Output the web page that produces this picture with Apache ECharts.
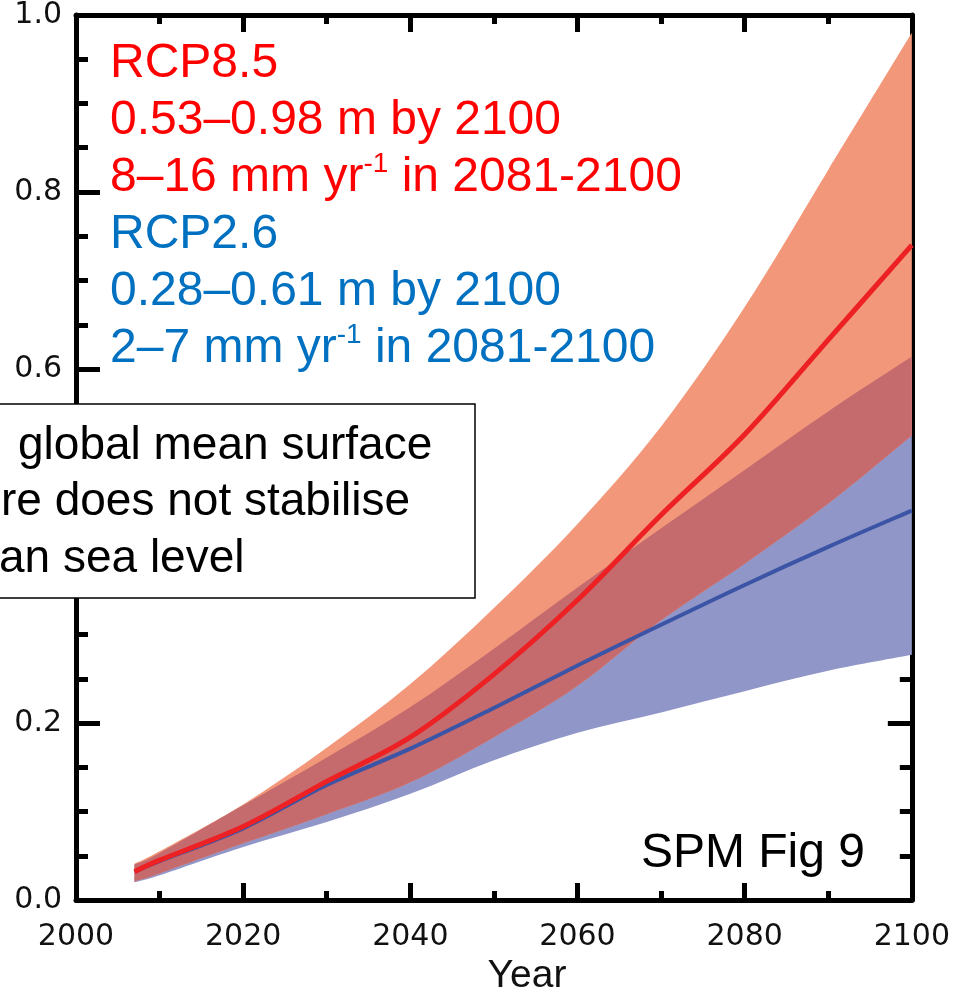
<!DOCTYPE html>
<html>
<head>
<meta charset="utf-8">
<script src="https://cdn.jsdelivr.net/npm/echarts@6/dist/echarts.min.js"></script>
<style>
  html, body { margin: 0; padding: 0; background: #fff; }
  #chart { width: 953px; height: 994px; }
</style>
</head>
<body>
<div id="chart"></div>
<script>
// values (m of sea level rise)
const years = [2007, 2010, 2020, 2030, 2040, 2050, 2060, 2070, 2080, 2090, 2100];
const rcp85Upper = [0.041, 0.055, 0.108, 0.172, 0.244, 0.330, 0.425, 0.535, 0.670, 0.825, 0.980];
const rcp85Mid   = [0.032, 0.045, 0.083, 0.134, 0.184, 0.255, 0.339, 0.435, 0.526, 0.633, 0.740];
const rcp85Lower = [0.021, 0.030, 0.064, 0.097, 0.133, 0.184, 0.242, 0.316, 0.380, 0.448, 0.525];
const rcp26Upper = [0.040, 0.053, 0.107, 0.161, 0.218, 0.284, 0.353, 0.420, 0.486, 0.552, 0.614];
const rcp26Mid   = [0.032, 0.044, 0.081, 0.130, 0.171, 0.217, 0.265, 0.311, 0.356, 0.399, 0.440];
const rcp26Lower = [0.020, 0.028, 0.060, 0.088, 0.120, 0.158, 0.189, 0.212, 0.236, 0.259, 0.277];

const chart = echarts.init(document.getElementById('chart'));

// where both ranges cover the same values
const overlapUpper = years.map((y, i) => Math.min(rcp85Upper[i], rcp26Upper[i]));
const overlapLower = years.map((y, i) => Math.max(rcp85Lower[i], rcp26Lower[i]));

// catmull-rom through pixel points -> svg path commands
const curve = (pts, first) => {
  let d = (first ? 'M' : 'L') + pts[0][0] + ',' + pts[0][1];
  for (let i = 0; i < pts.length - 1; i++) {
    const p0 = pts[i - 1] || pts[i], p1 = pts[i], p2 = pts[i + 1], p3 = pts[i + 2] || pts[i + 1];
    const c1 = [p1[0] + (p2[0] - p0[0]) / 6, p1[1] + (p2[1] - p0[1]) / 6];
    const c2 = [p2[0] - (p3[0] - p1[0]) / 6, p2[1] - (p3[1] - p1[1]) / 6];
    d += 'C' + c1.join(',') + ' ' + c2.join(',') + ' ' + p2.join(',');
  }
  return d;
};

const band = (lower, upper, color, z) => ({
  type: 'custom', z: z, silent: true,
  data: [[years[0], lower[0]]],
  renderItem: (params, api) => {
    const top = years.map((y, i) => api.coord([y, upper[i]]));
    const bot = years.map((y, i) => api.coord([y, lower[i]])).reverse();
    return {
      type: 'path',
      shape: { pathData: curve(top, true) + curve(bot, false) + 'Z' },
      style: { fill: color }
    };
  }
});

const line = (vals, color, width, z) => ({
  type: 'custom', z: z, silent: true,
  data: [[years[0], vals[0]]],
  renderItem: (params, api) => ({
    type: 'path',
    shape: { pathData: curve(years.map((y, i) => api.coord([y, vals[i]])), true) },
    style: { fill: null, stroke: color, lineWidth: width, lineCap: 'butt' }
  })
});

const tickLabel = { fontFamily: 'DejaVu Sans', fontSize: 30, color: '#111' };

const xAxisBase = {
  type: 'value', min: 2000, max: 2100, interval: 20,
  axisLine: { onZero: false, lineStyle: { color: '#000', width: 5 } },
  axisTick: { inside: true, length: 17, lineStyle: { color: '#000', width: 5 } },
  minorTick: { show: true, splitNumber: 2, length: 9, lineStyle: { color: '#000', width: 5 } },
  splitLine: { show: false }
};
const yAxisBase = {
  type: 'value', min: 0, max: 1, interval: 0.2,
  axisLine: { onZero: false, lineStyle: { color: '#000', width: 5 } },
  axisTick: { inside: true, length: 24, lineStyle: { color: '#000', width: 5 } },
  minorTick: { show: true, splitNumber: 4, length: 12, lineStyle: { color: '#000', width: 5 } },
  splitLine: { show: false }
};

const txt = (text, x, y, fill, size, extra) => ({
  type: 'text', z: 200, x: x, y: y,
  style: Object.assign({
    text: text, fill: fill,
    font: size + 'px "Liberation Sans", Arial, sans-serif',
    verticalAlign: 'middle', align: 'left'
  }, extra || {})
});
const sup = { s: { fontSize: 28, lineHeight: 38, verticalAlign: 'top' } };

const option = {
  animation: false,
  grid: { left: 76, right: 36, top: 12, bottom: 94 },
  xAxis: [
    Object.assign({}, xAxisBase, {
      position: 'bottom',
      axisLabel: Object.assign({ margin: 22, formatter: v => String(v) }, tickLabel)
    }),
    Object.assign({}, xAxisBase, { position: 'top', axisLabel: { show: false } })
  ],
  yAxis: [
    Object.assign({}, yAxisBase, {
      position: 'left',
      axisLabel: Object.assign({ margin: 14, formatter: v => v.toFixed(1) }, tickLabel)
    }),
    Object.assign({}, yAxisBase, { position: 'right', axisLabel: { show: false } })
  ],
  series: [
    band(rcp26Lower, rcp26Upper, '#9096c8', 1),
    band(rcp85Lower, rcp85Upper, '#f3977a', 2),
    band(overlapLower, overlapUpper, '#c56b6e', 3),
    line(rcp26Mid, '#3b54a5', 4, 4),
    line(rcp85Mid, '#ed2024', 5, 5)
  ],
  graphic: [
    txt('RCP8.5', 110, 64, '#ff0000', 48),
    txt('0.53–0.98 m by 2100', 110, 121, '#ff0000', 48),
    txt('8–16 mm yr{s|-1} in 2081-2100', 110, 178, '#ff0000', 48, { lineHeight: 56, rich: sup }),
    txt('RCP2.6', 110, 235, '#0070c0', 48),
    txt('0.28–0.61 m by 2100', 110, 292, '#0070c0', 48),
    txt('2–7 mm yr{s|-1} in 2081-2100', 110, 349, '#0070c0', 48, { lineHeight: 56, rich: sup }),
    {
      type: 'rect', z: 150,
      shape: { x: -10, y: 404, width: 485, height: 194 },
      style: { fill: '#fff', stroke: '#000', lineWidth: 1.5 }
    },
    txt('global mean surface', 18, 446, '#000', 46),
    txt('re does not stabilise', 1, 502, '#000', 46),
    txt('an sea level', -1, 559, '#000', 46),
    txt('SPM Fig 9', 865, 854, '#000', 48, { align: 'right' }),
    txt('Year', 527, 976, '#111', 39, { align: 'center' })
  ]
};

chart.setOption(option);
</script>
</body>
</html>
